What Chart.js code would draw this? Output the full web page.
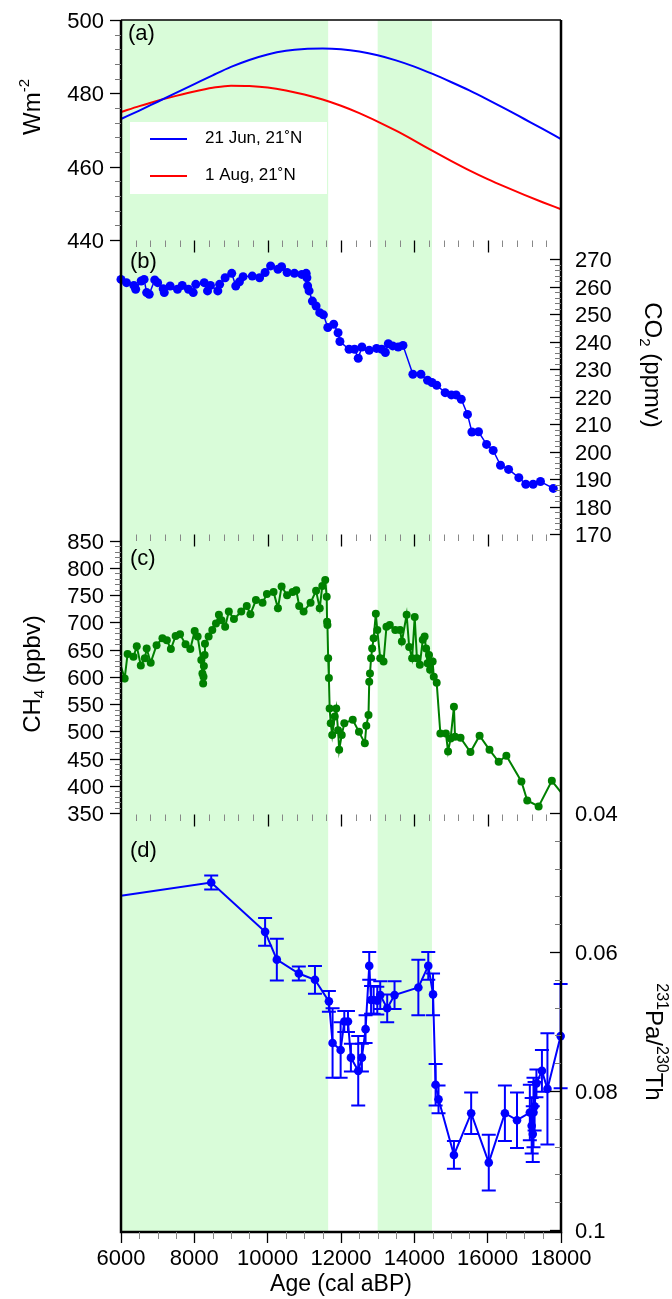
<!DOCTYPE html>
<html>
<head>
<meta charset="utf-8">
<script src="https://cdn.jsdelivr.net/npm/chart.js@4.4.1/dist/chart.umd.min.js"></script>
<style>
html,body{margin:0;padding:0;background:#fff;}
canvas{display:block;}
</style>
</head>
<body>
<canvas id="c" width="672" height="1299"></canvas>
<script>
// ---------------- DATA ----------------
const ageTicks = [6000, 8000, 10000, 12000, 14000, 16000, 18000];
const insolTicks = [440, 460, 480, 500];
const co2Ticks = [170, 180, 190, 200, 210, 220, 230, 240, 250, 260, 270];
const ch4Ticks = [350, 400, 450, 500, 550, 600, 650, 700, 750, 800, 850];
const paTicks = [0.04, 0.06, 0.08, 0.1];
const paTickLabels = ['0.04', '0.06', '0.08', '0.1'];

const bands = [[6000, 11650], [13000, 14480]];
const legendLabels = ['21 Jun, 21\u02DAN', '1 Aug, 21\u02DAN'];

const insolAge = [6000,6500,7000,7500,8000,8500,9000,9500,10000,10500,11000,11500,12000,12500,13000,13500,14000,14500,15000,15500,16000,16500,17000,17500,18000];
const insolJun = [473.0,475.3,477.7,480.1,482.5,484.9,487.2,489.1,490.6,491.6,492.1,492.2,492.0,491.4,490.4,489.0,487.3,485.3,483.1,480.8,478.3,475.7,473.0,470.3,467.5];
const insolAug = [474.9,476.5,478.0,479.3,480.5,481.5,482.1,482.0,481.6,480.8,479.7,478.3,476.6,474.6,472.3,469.8,467.1,464.3,461.6,459.0,456.6,454.4,452.3,450.3,448.4];

const co2Age = [6000,6150,6350,6400,6550,6630,6700,6770,6920,7000,7150,7180,7340,7540,7670,7840,7970,8040,8270,8360,8440,8640,8690,8840,9020,9130,9230,9330,9580,9780,9930,10080,10280,10380,10530,10730,10930,11050,11070,11090,11130,11220,11320,11420,11520,11640,11800,11920,11970,12220,12370,12470,12570,12770,12970,13110,13210,13290,13410,13560,13690,13960,14180,14360,14480,14610,14840,15010,15140,15280,15450,15570,15750,15970,16150,16350,16570,16850,17040,17240,17440,17790];
const co2Val = [262.7,261.5,260.5,259.1,262.1,262.7,257.9,257.3,262.5,261.5,259.3,257.9,260.3,259.1,260.5,259.1,257.9,260.9,261.5,258.5,260.5,258.5,260.9,263.3,264.9,260.3,261.8,263.7,263.9,263.3,265.2,267.6,266.4,267.3,265.2,264.9,264.5,264.9,263.3,260.3,258.5,254.8,253.0,250.6,249.8,245.2,246.4,243.3,240.1,237.3,237.3,234.0,238.1,236.9,237.6,237.3,236.1,239.3,238.5,238.1,238.7,228.2,228.2,226.0,225.2,224.2,221.5,220.7,220.7,219.1,213.6,207.2,207.3,202.7,200.5,195.1,193.6,190.6,188.2,188.2,189.2,186.7];

const ch4Age = [6000,6100,6180,6340,6430,6540,6650,6700,6810,6970,7130,7250,7360,7490,7610,7760,7890,8010,8090,8190,8220,8240,8250,8260,8280,8290,8390,8490,8590,8670,8740,8840,8940,9080,9280,9430,9530,9680,9860,9980,10160,10280,10380,10530,10680,10780,10860,10980,11170,11320,11420,11490,11570,11610,11620,11630,11650,11670,11690,11720,11760,11830,11870,11920,11950,12020,12090,12320,12490,12650,12690,12750,12770,12790,12820,12850,12890,12950,12990,13070,13160,13240,13330,13480,13610,13660,13790,13860,13940,14010,14070,14150,14230,14280,14320,14360,14400,14430,14500,14530,14610,14710,14860,14920,14990,15080,15110,15260,15530,15780,16050,16300,16510,16920,17080,17390,17750,18000];
const ch4Val = [619,597,642,637,656,621,634,652,626,658,671,667,651,675,678,660,651,684,674,631,606,588,600,620,640,661,674,686,698,714,704,692,720,706,720,730,715,741,736,752,756,726,766,750,756,759,730,720,736,758,726,767,778,747,701,695,634,598,542,515,493,527,542,502,466,493,515,521,499,478,510,530,591,606,634,652,671,716,686,634,628,692,695,686,686,665,714,655,634,710,634,622,668,674,652,625,640,613,628,600,589,496,496,463,487,545,490,488,462,492,466,444,455,408,373,362,409,388];

const paAge = [6000,8460,9930,10250,10850,11290,11670,11770,11990,12090,12190,12270,12470,12570,12670,12770,12820,12890,12990,13070,13260,13460,14110,14380,14510,14580,14660,15080,15550,16030,16470,16800,17150,17200,17230,17250,17280,17330,17480,17630,17990];
const paVal = [0.0519,0.0500,0.0571,0.0611,0.0631,0.0640,0.0671,0.0731,0.0741,0.0700,0.0700,0.0752,0.0771,0.0752,0.0711,0.0620,0.0669,0.0669,0.0670,0.0662,0.0681,0.0662,0.0651,0.0620,0.0661,0.0791,0.0812,0.0892,0.0832,0.0903,0.0832,0.0842,0.0831,0.0850,0.0862,0.0831,0.0822,0.0789,0.0771,0.0797,0.0721];
const paErr = [0,0.001,0.002,0.003,0.001,0.002,0.0015,0.005,0.004,0.0015,0.0015,0.002,0.005,0.002,0.002,0.002,0.002,0.002,0.002,0.002,0.002,0.002,0.004,0.002,0.003,0.003,0.002,0.002,0.003,0.004,0.004,0.004,0.004,0.004,0.004,0.005,0.0035,0.002,0.003,0.008,0.0075];

// ---------------- LAYOUT ----------------
const FONT = '"Liberation Sans", Arial, Helvetica, sans-serif';
const AREA = {left: 121, right: 561, top: 20, bottom: 1232};
const BAND = 'rgb(217,252,217)';
const BLUE = '#0000ff', RED = '#ff0000', GREEN = '#008000';

// value v1 at pixel p1, v2 at pixel p2 (p1 above p2) -> scale range over the whole chart area
function rangeFor(v1, p1, v2, p2) {
  const k = (v1 - v2) / (p2 - p1);
  return {min: v2 - (AREA.bottom - p2) * k, max: v1 + (p1 - AREA.top) * k};
}
const rA = rangeFor(500, 20, 440, 240);
const rB = rangeFor(270, 259.3, 170, 534.3);
const rC = rangeFor(850, 540.7, 350, 813);
const kD = (0.1 - 0.04) / (1230 - 813);
const rD = {min: 0.04 - (813 - AREA.top) * kD, max: 0.1 + (AREA.bottom - 1230) * kD};

const pts = (xs, ys) => xs.map((x, i) => ({x: x, y: ys[i]}));

Chart.defaults.font.family = FONT;
Chart.defaults.color = '#000';

function rich(ctx, cx, cy, rot, parts) {
  ctx.save();
  ctx.translate(cx, cy);
  ctx.rotate(rot);
  let total = 0;
  for (const p of parts) { ctx.font = p.size + 'px ' + FONT; p.w = ctx.measureText(p.t).width; total += p.w; }
  let xx = -total / 2;
  ctx.textAlign = 'left'; ctx.textBaseline = 'alphabetic'; ctx.fillStyle = '#000';
  for (const p of parts) { ctx.font = p.size + 'px ' + FONT; ctx.fillText(p.t, xx, 8.5 + (p.dy || 0)); xx += p.w; }
  ctx.restore();
}

function drawYAxis(ctx, scale, side, majors, labels, minorStep) {
  const edge = side === 'left' ? AREA.left : AREA.right;
  const lo = majors[0], hi = majors[majors.length - 1];
  const n = Math.round((hi - lo) / minorStep);
  ctx.save();
  ctx.lineWidth = 1; ctx.strokeStyle = '#777';
  for (let k = 0; k <= n; k++) {
    const y = Math.round(scale.getPixelForValue(lo + k * minorStep)) + 0.5;
    ctx.beginPath(); ctx.moveTo(edge, y); ctx.lineTo(edge - 6, y); ctx.stroke();
  }
  ctx.lineWidth = 1.3; ctx.strokeStyle = '#000';
  ctx.font = '22px ' + FONT; ctx.fillStyle = '#000'; ctx.textBaseline = 'middle';
  ctx.textAlign = side === 'left' ? 'right' : 'left';
  majors.forEach((v, i) => {
    const y = Math.round(scale.getPixelForValue(v)) + 0.5;
    ctx.beginPath(); ctx.moveTo(edge, y); ctx.lineTo(edge - 11, y); ctx.stroke();
    ctx.fillText(labels[i], side === 'left' ? 104 : 575, y + 1);
  });
  ctx.restore();
}

function drawXRow(ctx, x, y0) {
  ctx.save();
  for (let k = 1; k < 30; k++) {
    const v = 6000 + k * 400;
    const major = v % 2000 === 0;
    const px = Math.round(x.getPixelForValue(v)) + 0.5;
    ctx.strokeStyle = major ? '#000' : '#888';
    ctx.lineWidth = major ? 1.3 : 1;
    ctx.beginPath(); ctx.moveTo(px, y0); ctx.lineTo(px, y0 + (major ? 12 : 6.5)); ctx.stroke();
  }
  ctx.restore();
}

const panelPlugin = {
  id: 'panels',
  beforeDraw(chart) {
    const {ctx, chartArea: a, scales} = chart;
    const x = scales.x;
    ctx.save();
    ctx.fillStyle = BAND;
    for (const [s, e] of bands) {
      const x1 = x.getPixelForValue(s), x2 = x.getPixelForValue(e);
      ctx.fillRect(x1, a.top, x2 - x1, a.bottom - a.top);
    }
    ctx.restore();
  },
  beforeDatasetsDraw(chart) {
    const ctx = chart.ctx;
    ctx.save();
    ctx.fillStyle = '#fff';
    ctx.fillRect(130, 122, 197, 72);
    ctx.lineWidth = 2;
    ctx.strokeStyle = BLUE;
    ctx.beginPath(); ctx.moveTo(150, 139); ctx.lineTo(187, 139); ctx.stroke();
    ctx.strokeStyle = RED;
    ctx.beginPath(); ctx.moveTo(150, 176); ctx.lineTo(187, 176); ctx.stroke();
    ctx.fillStyle = '#000';
    ctx.font = '17px ' + FONT;
    ctx.textAlign = 'left'; ctx.textBaseline = 'alphabetic';
    ctx.fillText(legendLabels[0], 205, 143);
    ctx.fillText(legendLabels[1], 205, 180);
    ctx.restore();
  },
  afterDatasetsDraw(chart) {
    const {ctx, scales} = chart;
    const x = scales.x, y = scales.yd;
    ctx.save();
    ctx.strokeStyle = BLUE; ctx.lineWidth = 2;
    paAge.forEach((a, i) => {
      if (!paErr[i]) return;
      const px = x.getPixelForValue(a);
      const y1 = y.getPixelForValue(paVal[i] - paErr[i]);
      const y2 = y.getPixelForValue(paVal[i] + paErr[i]);
      ctx.beginPath();
      ctx.moveTo(px, y1); ctx.lineTo(px, y2);
      ctx.moveTo(px - 7, y1); ctx.lineTo(px + 7, y1);
      ctx.moveTo(px - 7, y2); ctx.lineTo(px + 7, y2);
      ctx.stroke();
    });
    ctx.restore();
  },
  afterDraw(chart) {
    const {ctx, scales} = chart;
    const x = scales.x;
    // frame
    ctx.save();
    ctx.strokeStyle = '#000';
    ctx.lineWidth = 1.5;
    ctx.beginPath(); ctx.moveTo(AREA.left, AREA.top); ctx.lineTo(AREA.right, AREA.top); ctx.stroke();
    ctx.lineWidth = 2.5;
    ctx.beginPath();
    ctx.moveTo(AREA.left, AREA.top); ctx.lineTo(AREA.left, AREA.bottom); ctx.lineTo(AREA.right, AREA.bottom); ctx.lineTo(AREA.right, AREA.top);
    ctx.stroke();
    ctx.restore();
    // x rows between panels
    drawXRow(ctx, x, 240.5);
    drawXRow(ctx, x, 534.5);
    drawXRow(ctx, x, 814.5);
    // bottom minor ticks
    ctx.save();
    ctx.strokeStyle = '#888'; ctx.lineWidth = 1;
    for (let k = 1; k < 24; k++) {
      const v = 6000 + k * 500;
      if (v % 2000 === 0) continue;
      const px = Math.round(x.getPixelForValue(v)) + 0.5;
      ctx.beginPath(); ctx.moveTo(px, AREA.bottom); ctx.lineTo(px, AREA.bottom + 7); ctx.stroke();
    }
    ctx.restore();
    // y axes
    drawYAxis(ctx, scales.ya, 'left', insolTicks, insolTicks.map(String), 4);
    drawYAxis(ctx, scales.yb, 'right', co2Ticks, co2Ticks.map(String), 2);
    drawYAxis(ctx, scales.yc, 'left', ch4Ticks, ch4Ticks.map(String), 10);
    drawYAxis(ctx, scales.yd, 'right', paTicks, paTickLabels, 0.004);
    // axis titles
    rich(ctx, 31, 107, -Math.PI / 2, [{t: 'Wm', size: 24}, {t: '-2', size: 15, dy: -11}]);
    rich(ctx, 31, 674, -Math.PI / 2, [{t: 'CH', size: 24}, {t: '4', size: 15, dy: 4}, {t: ' (ppbv)', size: 24}]);
    rich(ctx, 653, 365, Math.PI / 2, [{t: 'CO', size: 24}, {t: '2', size: 15, dy: 5}, {t: ' (ppmv)', size: 24}]);
    rich(ctx, 654, 1042, Math.PI / 2, [{t: '231', size: 16, dy: -11}, {t: 'Pa/', size: 24}, {t: '230', size: 16, dy: -11}, {t: 'Th', size: 24}]);
    // panel letters
    ctx.save();
    ctx.font = '22px ' + FONT; ctx.fillStyle = '#000'; ctx.textAlign = 'left'; ctx.textBaseline = 'middle';
    ctx.fillText('(a)', 128, 34);
    ctx.fillText('(b)', 130, 262);
    ctx.fillText('(c)', 130, 559);
    ctx.fillText('(d)', 130, 851);
    ctx.restore();
  }
};

const hiddenY = (r, extra) => Object.assign({type: 'linear', display: false, min: r.min, max: r.max, bounds: 'data'}, extra || {});

const ch4Radius = c => (c.dataIndex === 0 || c.dataIndex === ch4Age.length - 1) ? 0 : 4;
const paRadius = c => c.dataIndex === 0 ? 0 : 4.3;

new Chart(document.getElementById('c'), {
  type: 'line',
  data: {
    datasets: [
      {label: legendLabels[0], data: pts(insolAge, insolJun), yAxisID: 'ya', borderColor: BLUE, borderWidth: 2, pointRadius: 0, cubicInterpolationMode: 'monotone', clip: false},
      {label: legendLabels[1], data: pts(insolAge, insolAug), yAxisID: 'ya', borderColor: RED, borderWidth: 2, pointRadius: 0, cubicInterpolationMode: 'monotone', clip: false},
      {label: 'CO2', data: pts(co2Age, co2Val), yAxisID: 'yb', borderColor: BLUE, backgroundColor: BLUE, pointBackgroundColor: BLUE, borderWidth: 1.5, pointRadius: 4.5, pointBorderWidth: 0, clip: false},
      {label: 'CH4', data: pts(ch4Age, ch4Val), yAxisID: 'yc', borderColor: GREEN, backgroundColor: GREEN, pointBackgroundColor: GREEN, borderWidth: 2, pointRadius: ch4Radius, pointBorderWidth: 0, clip: false},
      {label: 'Pa/Th', data: pts(paAge, paVal), yAxisID: 'yd', borderColor: BLUE, backgroundColor: BLUE, pointBackgroundColor: BLUE, borderWidth: 2, pointRadius: paRadius, pointBorderWidth: 0, clip: false}
    ]
  },
  options: {
    responsive: false,
    animation: false,
    devicePixelRatio: 1,
    events: [],
    layout: {padding: {left: 121, right: 111, top: 20, bottom: 0}},
    plugins: {legend: {display: false}, tooltip: {enabled: false}},
    scales: {
      x: {
        type: 'linear', position: 'bottom', min: 6000, max: 18000, bounds: 'data',
        afterBuildTicks: s => { s.ticks = ageTicks.map(v => ({value: v})); },
        afterFit: s => { s.height = 67; },
        ticks: {autoSkip: false, maxRotation: 0, minRotation: 0, padding: 3, font: {size: 22}, color: '#000', callback: v => String(v)},
        grid: {drawOnChartArea: false, drawTicks: true, tickLength: 11, tickColor: '#000', tickWidth: 1.3},
        border: {display: false},
        title: {display: true, text: 'Age (cal aBP)', font: {size: 23}, color: '#000', padding: {top: 0, bottom: 1}}
      },
      ya: hiddenY(rA),
      yb: hiddenY(rB),
      yc: hiddenY(rC),
      yd: hiddenY(rD, {reverse: true})
    }
  },
  plugins: [panelPlugin]
});
</script>
</body>
</html>
